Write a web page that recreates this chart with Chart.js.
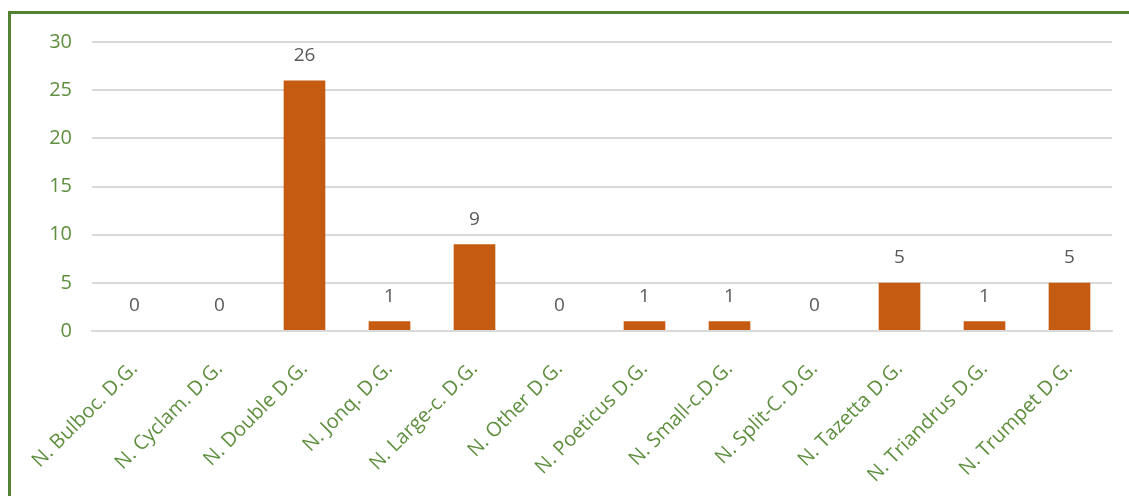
<!DOCTYPE html>
<html lang="en">
<head>
    <meta charset="UTF-8">
    <title>Daffodil Groups</title>
    <script src="https://cdn.jsdelivr.net/npm/chart.js"></script>
    <style>
        body { margin: 0; background: #fff; overflow: hidden; }
        #frame {
            position: absolute; left: 8px; top: 11px;
            width: 1200px; height: 600px;
            border: 3px solid #548235;
        }
        #wrap { position: absolute; left: 0; top: -4px; width: 1118px; height: 489px; }
    </style>
</head>
<body>
    <div id="frame">
        <div id="wrap"><canvas id="groupChart"></canvas></div>
    </div>
    <script>
        const categories = ['N. Bulboc. D.G.', 'N. Cyclam. D.G.', 'N. Double D.G.', 'N. Jonq. D.G.',
            'N. Large-c. D.G.', 'N. Other D.G.', 'N. Poeticus D.G.', 'N. Small-c.D.G.',
            'N. Split-C. D.G.', 'N. Tazetta D.G.', 'N. Triandrus D.G.', 'N. Trumpet D.G.'];
        const counts = [0, 0, 26, 1, 9, 0, 1, 1, 0, 5, 1, 5];
        const yTicks = [0, 5, 10, 15, 20, 25, 30];

        const green = '#5e8f3e';
        const fontFamily = "'Open Sans', 'Noto Sans', sans-serif";

        // draws the value above each bar
        const valueLabels = {
            id: 'valueLabels',
            afterDatasetsDraw(chart) {
                const ctx = chart.ctx;
                const meta = chart.getDatasetMeta(0);
                ctx.save();
                ctx.fillStyle = '#595959';
                ctx.font = '19px ' + fontFamily;
                ctx.textAlign = 'center';
                ctx.textBaseline = 'middle';
                meta.data.forEach((bar, i) => {
                    ctx.fillText(String(counts[i]), bar.x, bar.y - 25);
                });
                ctx.restore();
            }
        };

        new Chart(document.getElementById('groupChart'), {
            type: 'bar',
            data: {
                labels: categories,
                datasets: [{
                    data: counts,
                    backgroundColor: '#c55a11',
                    borderWidth: 0,
                    barPercentage: 0.49,
                    categoryPercentage: 1.0
                }]
            },
            options: {
                responsive: true,
                maintainAspectRatio: false,
                animation: false,
                layout: { padding: { top: 14, right: 17, left: 0, bottom: 0 } },
                plugins: {
                    legend: { display: false },
                    tooltip: { enabled: false }
                },
                scales: {
                    x: {
                        grid: { display: false },
                        border: { display: true, color: '#d9d9d9', width: 2 },
                        ticks: {
                            color: green,
                            font: { size: 20, family: fontFamily },
                            maxRotation: 45,
                            minRotation: 45,
                            padding: 18
                        },
                        afterFit(scale) { scale.height = 168; }
                    },
                    y: {
                        min: 0,
                        max: 30,
                        afterBuildTicks(scale) { scale.ticks = yTicks.map(v => ({ value: v })); },
                        grid: { color: '#d9d9d9', lineWidth: 2, drawTicks: false },
                        border: { display: false },
                        ticks: {
                            color: green,
                            font: { size: 20, family: fontFamily },
                            padding: 20
                        },
                        afterFit(scale) { scale.width = 81; }
                    }
                }
            },
            plugins: [valueLabels]
        });
    </script>
</body>
</html>
